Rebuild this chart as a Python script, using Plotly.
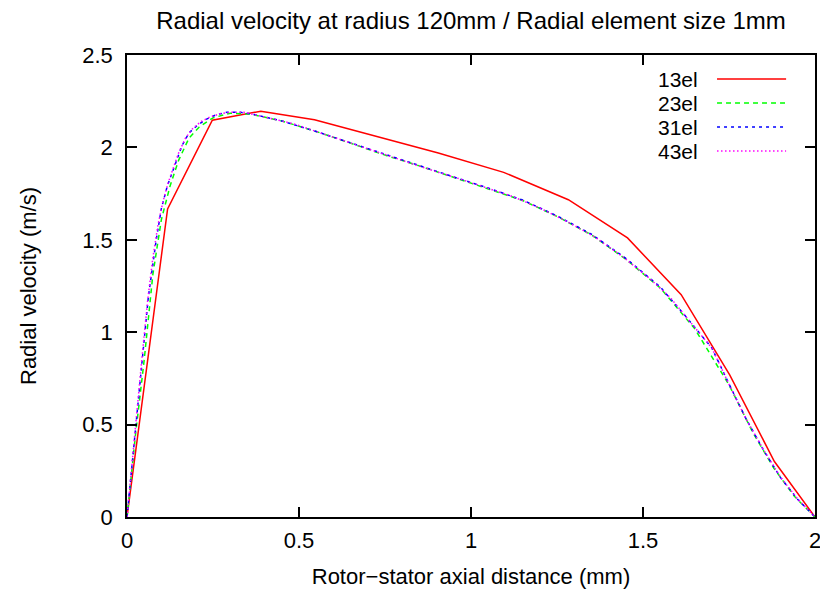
import plotly.graph_objects as go

# radial velocity profiles across the rotor-stator gap (mm, m/s)
x13 = [0, 0.118, 0.248, 0.389, 0.545, 0.717, 0.905, 1.095, 1.283, 1.455, 1.611, 1.752, 1.882, 2.0]
y13 = [0, 1.667, 2.147, 2.196, 2.150, 2.065, 1.970, 1.865, 1.717, 1.510, 1.203, 0.769, 0.300, 0]

x23 = [0, 0.025, 0.05, 0.075, 0.10, 0.125, 0.15, 0.18, 0.21, 0.25, 0.30, 0.36, 0.45, 0.55, 0.65,
       0.75, 0.85, 0.95, 1.05, 1.15, 1.25, 1.35, 1.45, 1.55, 1.65, 1.75, 1.82, 1.88, 1.94, 2.0]
y23 = [0, 0.45, 0.85, 1.31, 1.61, 1.79, 1.93, 2.05, 2.11, 2.16, 2.185, 2.18, 2.143, 2.086, 2.023,
       1.958, 1.900, 1.838, 1.778, 1.713, 1.627, 1.527, 1.395, 1.240, 1.020, 0.715, 0.455, 0.265, 0.112, 0]

x31 = [0, 0.02, 0.04, 0.062, 0.085, 0.10, 0.117, 0.14, 0.16, 0.18, 0.205, 0.23, 0.26, 0.29, 0.33,
       0.37, 0.45, 0.55, 0.65, 0.75, 0.85, 0.95, 1.05, 1.15, 1.25, 1.35, 1.45, 1.55, 1.62, 1.70,
       1.75, 1.80, 1.85, 1.90, 1.95, 2.0]
y31 = [0, 0.39, 0.77, 1.19, 1.50, 1.67, 1.79, 1.91, 2.01, 2.078, 2.12, 2.152, 2.177, 2.19, 2.19,
       2.178, 2.143, 2.086, 2.024, 1.960, 1.900, 1.840, 1.780, 1.715, 1.630, 1.530, 1.400, 1.245, 1.095, 0.915,
       0.720, 0.530, 0.363, 0.213, 0.095, 0]

x43 = [0, 0.015, 0.03, 0.045, 0.06, 0.075, 0.09, 0.105, 0.12, 0.135, 0.15, 0.17, 0.19, 0.215, 0.24,
       0.27, 0.30, 0.34, 0.40, 0.48, 0.56, 0.64, 0.72, 0.80, 0.88, 0.96, 1.04, 1.12, 1.20, 1.28,
       1.36, 1.44, 1.52, 1.58, 1.64, 1.70, 1.75, 1.80, 1.85, 1.90, 1.95, 2.0]
y43 = [0, 0.31, 0.60, 0.89, 1.17, 1.40, 1.58, 1.71, 1.81, 1.89, 1.97, 2.05, 2.10, 2.14, 2.163,
       2.182, 2.19, 2.19, 2.165, 2.13, 2.08, 2.03, 1.977, 1.928, 1.880, 1.834, 1.783, 1.735, 1.672, 1.598,
       1.515, 1.410, 1.290, 1.186, 1.049, 0.915, 0.718, 0.530, 0.365, 0.215, 0.097, 0]

names = ["13el", "23el", "31el", "43el"]
colors = ["#ff0000", "#00ff00", "#0000ff", "#ff00ff"]
dashes = ["solid", "5px,4px", "3px,4px", "1.5px,2.5px"]

FONT = "Liberation Sans, Arial, Helvetica, sans-serif"

fig = go.Figure()
for xs, ys, nm, c, d in zip([x13, x23, x31, x43], [y13, y23, y31, y43], names, colors, dashes):
    fig.add_trace(go.Scatter(x=xs, y=ys, mode="lines", name=nm,
                             line=dict(color=c, width=1.5, dash=d), showlegend=False))

# gnuplot style key: label on the left, line sample on the right
key_y = [0.948, 0.896, 0.844, 0.792]
for nm, c, d, ky in zip(names, colors, dashes, key_y):
    fig.add_annotation(x=0.833, y=ky, xref="paper", yref="paper", text=nm, showarrow=False,
                       xanchor="right", yanchor="middle", height=22,
                       font=dict(size=21, color="black", family=FONT))
    fig.add_shape(type="line", xref="paper", yref="paper", x0=0.8576, x1=0.958, y0=ky, y1=ky,
                  line=dict(color=c, width=1.5, dash=d))

axis_common = dict(showline=True, linecolor="black", linewidth=1.5, mirror="ticks",
                   ticks="inside", ticklen=10, tickwidth=1.5, tickcolor="black",
                   showgrid=False, zeroline=False, automargin=False,
                   tickfont=dict(size=22, color="black", family=FONT))

fig.update_xaxes(range=[0, 2], dtick=0.5, ticklabelstandoff=3,
                 title=dict(text="Rotor\u2212stator axial distance (mm)", standoff=16,
                            font=dict(size=22, color="black", family=FONT)),
                 **axis_common)
fig.update_yaxes(range=[0, 2.5], dtick=0.5, ticklabelstandoff=8,
                 title=dict(text="Radial velocity (m/s)", standoff=40,
                            font=dict(size=22, color="black", family=FONT)),
                 **axis_common)

# the page adds an 8px body margin, so the figure is sized to fit what is left
fig.update_layout(
    width=820, height=587,
    margin=dict(l=119, r=13, t=47, b=78),
    paper_bgcolor="white", plot_bgcolor="white",
    title=dict(text="Radial velocity at radius 120mm / Radial element size 1mm",
               x=0.5, xref="paper", y=0.978, yanchor="middle",
               font=dict(size=24, color="black", family=FONT)),
)

fig.write_html("out.html")
